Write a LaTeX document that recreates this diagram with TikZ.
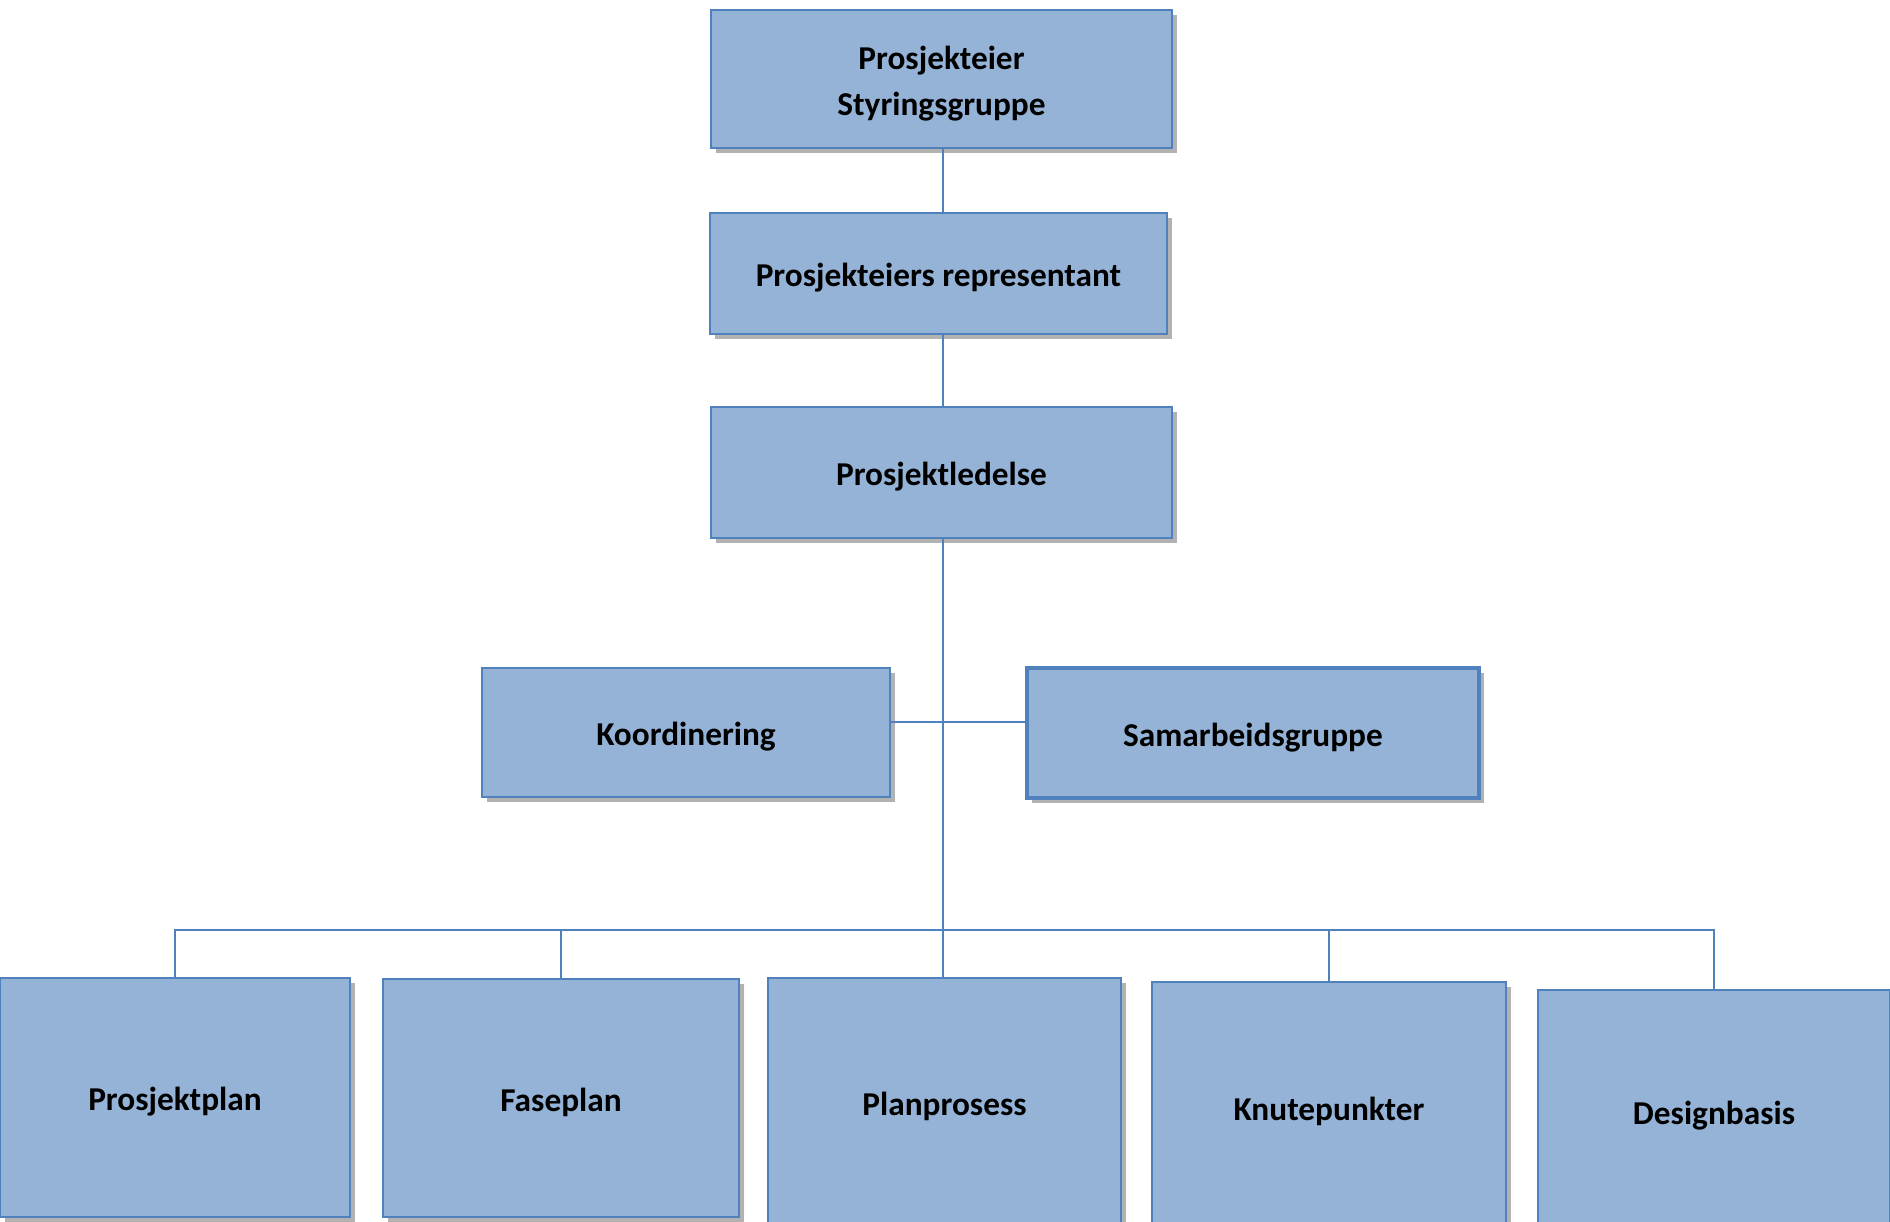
\documentclass[tikz,border=0pt]{standalone}
\usepackage{fontspec}
\setmainfont{Carlito}
\usepackage{tikz}
\usetikzlibrary{positioning,calc,shadows}
\definecolor{boxfill}{HTML}{95B3D7}
\definecolor{boxline}{HTML}{4F81BD}
\newcommand\lavt[1]{\raisebox{-0.11cm}[\height][\depth]{#1}}

\begin{document}
\begin{tikzpicture}[x=0.025cm, y=-0.025cm,
            every node/.style={draw=boxline, line width=1.3pt, fill=boxfill, rectangle,
                inner sep=0pt, align=center, font=\fontsize{23.7}{33}\selectfont\bfseries,
                drop shadow={shadow xshift=0.12cm, shadow yshift=-0.12cm, fill=black, opacity=0.3}},
            link/.style={draw=boxline, line width=1.4pt}]
        \useasboundingbox (0,0) rectangle (1890,1222);
        \node[minimum width=11.525cm, minimum height=3.45cm] (eier) at (941.5,79)
            {\lavt{\begin{tabular}{@{}c@{}}Prosjekteier\\Styringsgruppe\end{tabular}}};
        \node[minimum width=11.425cm, minimum height=3.025cm] (rep) at (938.5,273.5) {\lavt{Prosjekteiers representant}};
        \node[minimum width=11.525cm, minimum height=3.275cm] (ledelse) at (941.5,472.5) {\lavt{Prosjektledelse}};
        \node[minimum width=10.2cm, minimum height=3.225cm] (koord) at (686,732.5) {\lavt{Koordinering}};
        \node[minimum width=11.3cm, minimum height=3.25cm, line width=2.4pt] (samarb) at (1253,733) {\lavt{Samarbeidsgruppe}};
        \node[minimum width=8.75cm, minimum height=5.975cm] (pplan) at (175,1097.5) {\lavt{Prosjektplan}};
        \node[minimum width=8.9cm, minimum height=5.95cm] (fplan) at (561,1098) {\lavt{Faseplan}};
        \node[minimum width=8.825cm, minimum height=6.2cm] (pprosess) at (944.5,1102) {\lavt{Planprosess}};
        \node[minimum width=8.85cm, minimum height=6.25cm] (knute) at (1329,1107) {\lavt{Knutepunkter}};
        \node[minimum width=8.8cm, minimum height=6.05cm] (design) at (1714,1111) {\lavt{Designbasis}};
        \coordinate (midt) at (943,722);
        \coordinate (buss) at (943,930);
        \draw[link] (eier.south -| buss) -- (rep.north -| buss);
        \draw[link] (rep.south -| buss) -- (ledelse.north -| buss);
        \draw[link] (ledelse.south -| buss) -- (pprosess.north -| buss);
        \draw[link] (koord.east |- midt) -- (samarb.west |- midt);
        \draw[link] (pplan.north) |- (design.north |- buss) -- (design.north);
        \draw[link] (fplan.north) -- (fplan.north |- buss);
        \draw[link] (knute.north) -- (knute.north |- buss);
\end{tikzpicture}
\end{document}
